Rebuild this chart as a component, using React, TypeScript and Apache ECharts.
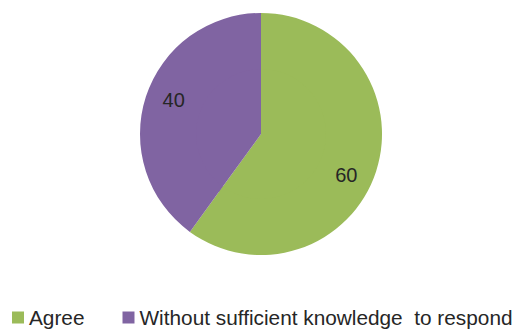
import React, { useEffect, useRef } from "react";
import * as echarts from "echarts";

const categories = ["Agree", "Without sufficient knowledge  to respond"];
const values = [60, 40];
const colors = ["#9BBB59", "#8064A2"];
const labelOffsets = [[-6, 11], [4, -4]];

export default function App() {
  const ref = useRef<HTMLDivElement>(null);
  useEffect(() => {
    if (!ref.current) return;
    const chart = echarts.init(ref.current, null, { renderer: "svg" });
    const data = categories.map((name, i) => ({
      name,
      value: values[i],
      itemStyle: { color: colors[i] },
      label: { offset: labelOffsets[i] },
    }));
    chart.setOption({
      animation: false,
      backgroundColor: "#ffffff",
      legend: {
        data: categories,
        left: 12,
        top: 307,
        width: 560,
        padding: 0,
        icon: "rect",
        itemWidth: 12,
        itemHeight: 12,
        itemGap: 38,
        itemTextGap: 3,
        selectedMode: false,
        textStyle: {
          fontFamily: "Liberation Sans, Arial, sans-serif",
          fontSize: 20.8,
          color: "#262626",
        },
      },
      series: [
        {
          type: "pie",
          center: [261, 134],
          radius: [0, 72],
          startAngle: 90,
          clockwise: true,
          silent: true,
          label: { show: false },
          labelLine: { show: false },
          itemStyle: { borderWidth: 0 },
          data: data.map((d) => ({ ...d, label: { show: false } })),
        },
        {
          type: "pie",
          center: [261, 134],
          radius: [65, 121],
          startAngle: 90,
          clockwise: true,
          silent: true,
          itemStyle: { borderWidth: 0 },
          label: {
            show: true,
            position: "inside",
            formatter: "{c}",
            fontFamily: "Liberation Sans, Arial, sans-serif",
            fontSize: 20,
            color: "#262626",
          },
          labelLine: { show: false },
          data,
        },
      ],
    });
    return () => chart.dispose();
  }, []);
  return (
    <div
      ref={ref}
      style={{ position: "absolute", left: 0, top: 0, width: 515, height: 329 }}
    />
  );
}
